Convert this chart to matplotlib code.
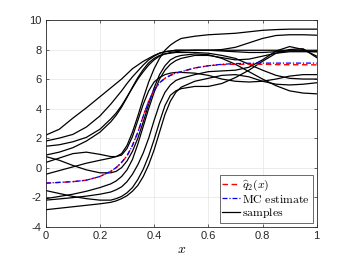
import numpy as np
import matplotlib
matplotlib.use("Agg")
import matplotlib.pyplot as plt

plt.rcParams['mathtext.fontset'] = 'cm'
plt.rcParams['font.family'] = ['Liberation Sans', 'DejaVu Sans']

x_grid = [0, .05, .1, .15, .2, .24, .26, .28, .30, .32, .34, .36, .38, .40, .42,
          .44, .46, .48, .5, .55, .6, .65, .7, .75, .8, .85, .9, .95, 1.0]

q2_hat = [-1.05, -1.0, -0.95, -0.85, -0.6, -0.25, 0.0, 0.35, 0.8, 1.5, 2.4, 3.5, 4.5,
          5.25, 5.75, 6.05, 6.25, 6.4, 6.5, 6.75, 6.9, 6.98, 7.0, 7.0, 7.0, 6.98, 6.97,
          6.97, 6.96]
mc_estimate = [-1.05, -1.0, -0.95, -0.85, -0.6, -0.25, 0.0, 0.35, 0.8, 1.5, 2.4, 3.5, 4.5,
               5.25, 5.75, 6.05, 6.25, 6.4, 6.5, 6.75, 6.9, 7.0, 7.05, 7.07, 7.08, 7.08,
               7.08, 7.08, 7.08]

s1 = [2.2, 2.6, 3.35, 4.05, 4.8, 5.4, 5.7, 6.0, 6.35, 6.7, 6.95, 7.2, 7.4, 7.6, 7.75,
      7.85, 7.9, 7.95, 7.95, 7.95, 7.95, 7.95, 7.95, 7.95, 7.95, 7.95, 7.95, 7.95, 7.95]
s2 = [1.8, 2.0, 2.25, 2.75, 3.5, 4.3, 4.75, 5.2, 5.7, 6.15, 6.55, 6.95, 7.3, 7.55, 7.75,
      7.85, 7.9, 7.95, 7.95, 7.95, 7.95, 8.0, 8.15, 8.45, 8.75, 8.95, 9.0, 9.0, 8.97]
s3 = [1.45, 1.55, 1.75, 2.05, 2.6, 3.3, 3.7, 4.2, 4.8, 5.4, 6.0, 6.5, 6.95, 7.3, 7.55,
      7.7, 7.8, 7.85, 7.9, 7.95, 7.95, 7.9, 7.85, 7.8, 7.8, 7.85, 7.9, 7.9, 7.85]
s4 = [0.85, 1.05, 1.35, 1.8, 2.4, 3.1, 3.55, 4.1, 4.75, 5.45, 6.1, 6.65, 7.1, 7.4, 7.6,
      7.7, 7.75, 7.8, 7.8, 7.8, 7.75, 7.6, 7.4, 7.0, 6.6, 6.25, 6.05, 6.0, 6.0]
s5 = [0.75, 0.5, 0.15, -0.15, -0.35, -0.35, -0.25, 0.0, 0.45, 1.1, 2.0, 3.1, 4.3, 5.4,
      6.3, 6.9, 7.3, 7.5, 7.6, 7.7, 7.65, 7.4, 7.0, 6.5, 6.0, 5.55, 5.2, 5.05, 5.0]
s6 = [0.35, 0.65, 0.95, 1.05, 0.9, 0.75, 0.75, 0.85, 1.3, 2.1, 3.2, 4.3, 5.2, 5.8, 6.1,
      6.3, 6.4, 6.45, 6.45, 6.4, 6.25, 6.0, 5.85, 5.8, 5.85, 6.0, 6.2, 6.3, 6.3]
s7 = [-0.45, -0.2, 0.05, 0.3, 0.5, 0.65, 0.75, 0.95, 1.5, 2.4, 3.5, 4.7, 5.8, 6.7, 7.4,
      7.95, 8.3, 8.55, 8.75, 8.9, 9.0, 9.05, 9.1, 9.2, 9.3, 9.35, 9.38, 9.38, 9.38]
s8 = [-2.1, -1.95, -1.8, -1.6, -1.35, -1.1, -0.9, -0.6, -0.15, 0.55, 1.6, 2.8, 4.0, 5.1,
      6.0, 6.6, 7.0, 7.25, 7.4, 7.6, 7.6, 7.45, 7.3, 7.35, 7.55, 7.75, 7.85, 7.85, 7.85]
s9 = [-2.2, -2.12, -2.03, -1.93, -1.8, -1.65, -1.5, -1.3, -0.95, -0.45, 0.2, 1.0, 2.0,
      3.2, 4.3, 5.1, 5.6, 5.9, 6.05, 6.3, 6.5, 6.55, 6.6, 6.8, 7.3, 7.9, 8.2, 8.0, 7.55]
s10 = [-1.55, -1.75, -1.95, -2.1, -2.2, -2.2, -2.1, -1.95, -1.7, -1.35, -0.8, -0.1, 0.8,
       1.9, 3.1, 4.2, 4.9, 5.2, 5.35, 5.5, 5.5, 5.7, 6.1, 6.6, 7.2, 7.75, 8.0, 8.05, 7.45]
s11 = [-2.85, -2.75, -2.65, -2.55, -2.45, -2.35, -2.25, -2.1, -1.9, -1.6, -1.2, -0.6, 0.2,
       1.2, 2.4, 3.6, 4.5, 5.1, 5.45, 5.85, 6.05, 6.25, 6.3, 6.15, 5.85, 5.65, 5.6, 5.65, 5.75]
samples = [s1, s2, s3, s4, s5, s6, s7, s8, s9, s10, s11]

x_ticks = [0, 0.2, 0.4, 0.6, 0.8, 1]
x_tick_labels = ['0', '0.2', '0.4', '0.6', '0.8', '1']
y_ticks = [-4, -2, 0, 2, 4, 6, 8, 10]
y_tick_labels = ['-4', '-2', '0', '2', '4', '6', '8', '10']

fig = plt.figure(figsize=(3.5, 2.63), dpi=100)
ax = fig.add_axes([0.1306, 0.138, 0.7743, 0.786])

for i, s in enumerate(samples):
    ax.plot(x_grid, s, color='black', lw=0.9, zorder=2,
            label=r'$\mathrm{samples}$' if i == 0 else None)
ax.plot(x_grid, q2_hat, color='#ff0000', lw=1.0, ls=(0, (4, 2.5)), zorder=3,
        label=r'$\widehat{q}_2(x)$')
ax.plot(x_grid, mc_estimate, color='#0000ff', lw=0.9, ls=(0, (4, 1.5, 1, 1.5)), zorder=4,
        label=r'$\mathrm{MC\ estimate}$')

ax.set_xlim(0, 1)
ax.set_ylim(-4, 10)
ax.set_xticks(x_ticks)
ax.set_xticklabels(x_tick_labels)
ax.set_yticks(y_ticks)
ax.set_yticklabels(y_tick_labels)
ax.grid(True, color='#e4e4e4', lw=0.5, zorder=0)
ax.set_axisbelow(True)
ax.tick_params(direction='in', length=2.5, width=0.5, top=True, right=True,
               labelsize=8, colors='#262626', pad=3)
for sp in ax.spines.values():
    sp.set_color('#262626')
    sp.set_linewidth(0.6)
ax.set_xlabel(r'$x$', fontsize=10, labelpad=1)

handles, labels = ax.get_legend_handles_labels()
order = [1, 2, 0]
leg = ax.legend([handles[k] for k in order], [labels[k] for k in order],
                loc='lower right', fontsize=8.5, frameon=True, fancybox=False,
                edgecolor='#262626', handlelength=1.5, handletextpad=0.2,
                borderpad=0.2, labelspacing=0.05, borderaxespad=0.35)
leg.get_frame().set_linewidth(0.6)

fig.savefig('out.png', dpi=100)
